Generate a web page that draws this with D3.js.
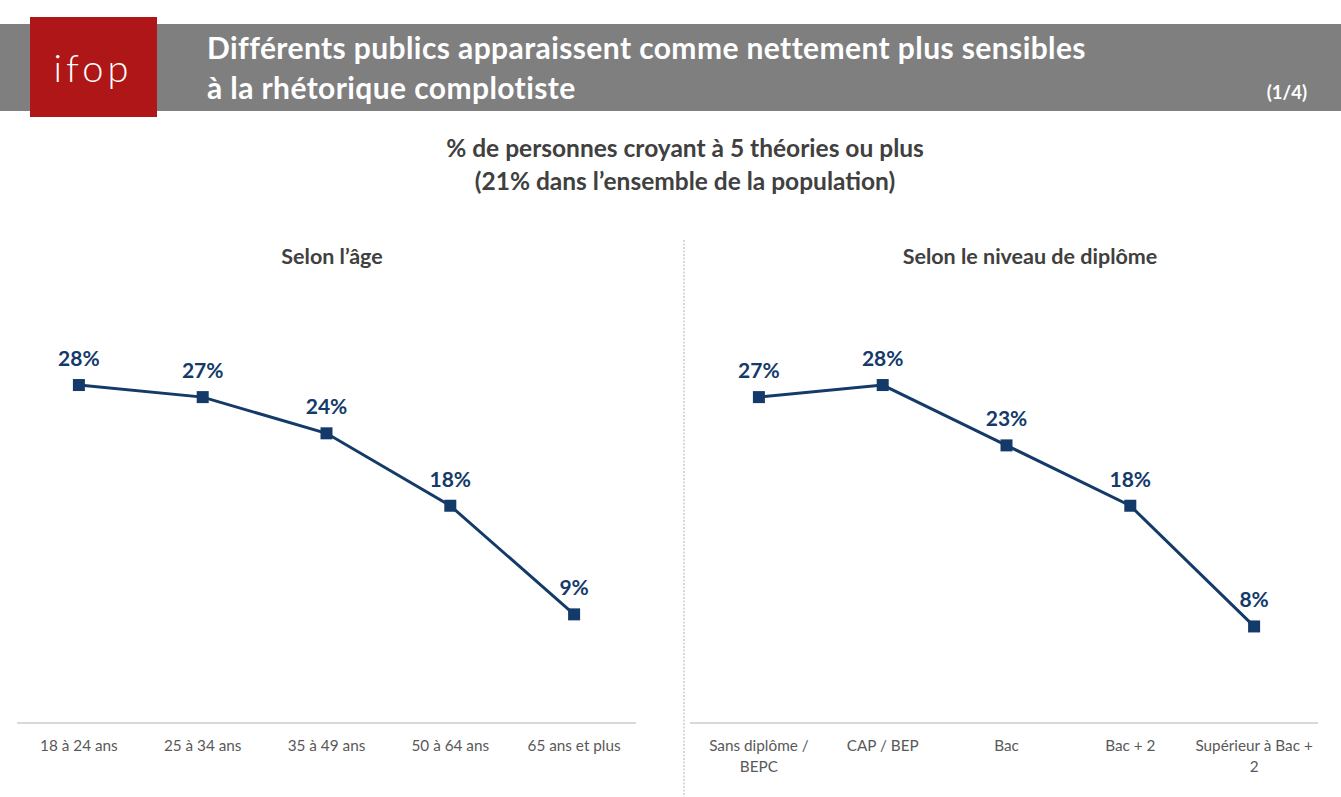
<!DOCTYPE html>
<html><head><meta charset="utf-8">
<script src="https://cdn.jsdelivr.net/npm/d3@7"></script>
<style>body{margin:0;background:#fff}svg{display:block}</style>
</head><body>
<svg id="c" width="1341" height="797"></svg>
<script>
const ageCats = ["18 à 24 ans","25 à 34 ans","35 à 49 ans","50 à 64 ans","65 ans et plus"];
const ageVals = [28,27,24,18,9];
const dipCats = [["Sans diplôme /","BEPC"],["CAP / BEP"],["Bac"],["Bac + 2"],["Supérieur à Bac +","2"]];
const dipVals = [27,28,23,18,8];
const titleLines = ["Différents publics apparaissent comme nettement plus sensibles","à la rhétorique complotiste"];
const subtitleLines = ["% de personnes croyant à 5 théories ou plus","(21% dans l’ensemble de la population)"];
const panelTitles = ["Selon l’âge","Selon le niveau de diplôme"];

const F = "Lato, 'Open Sans', sans-serif";
const svg = d3.select("#c");
const navy = "#133A68";

// header
svg.append("rect").attr("x",0).attr("y",24).attr("width",1341).attr("height",87).attr("fill","#7F7F7F");
svg.append("rect").attr("x",30).attr("y",17).attr("width",127).attr("height",100).attr("fill","#AE1618");
svg.append("text").attr("x",93).attr("y",82).attr("text-anchor","middle").attr("fill","#fff")
  .attr("font-family",F).attr("font-weight",300).attr("font-size",38).attr("letter-spacing",4).text("ifop");
titleLines.forEach((t,i)=>svg.append("text").attr("x",207).attr("y",59+i*40).attr("fill","#fff")
  .attr("font-family",F).attr("font-weight",700).attr("font-size",30).attr("letter-spacing",0.4).text(t));
svg.append("text").attr("x",1307).attr("y",99).attr("text-anchor","end").attr("fill","#fff")
  .attr("font-family",F).attr("font-weight",700).attr("font-size",18.5).text("(1/4)");

subtitleLines.forEach((t,i)=>svg.append("text").attr("x",685).attr("y",157+i*33).attr("text-anchor","middle")
  .attr("fill","#404040").attr("font-family",F).attr("font-weight",700).attr("font-size",24.5).text(t));

// separator
svg.append("line").attr("x1",684).attr("x2",684).attr("y1",240).attr("y2",797)
  .attr("stroke","#BFBFBF").attr("stroke-width",1.2).attr("stroke-dasharray","2,1.5");

const y = d3.scaleLinear().domain([0,30]).range([723, 723-30*12.07]);

function panel(cats, vals, x0, x1, lineX0, lineX1, title, tx){
  const x = d3.scaleBand().domain(d3.range(cats.length)).range([x0,x1]);
  const g = svg.append("g");
  g.append("text").attr("x",tx).attr("y",264).attr("text-anchor","middle")
    .attr("fill","#404040").attr("font-family",F).attr("font-weight",700).attr("font-size",21.5).text(title);
  g.append("line").attr("x1",lineX0).attr("x2",lineX1).attr("y1",y(0)).attr("y2",y(0))
    .attr("stroke","#D9D9D9").attr("stroke-width",2);
  cats.forEach((c,i)=>{
    const lines = Array.isArray(c)?c:[c];
    lines.forEach((l,j)=>g.append("text").attr("x",x(i)+x.bandwidth()/2).attr("y",751+j*21)
      .attr("text-anchor","middle").attr("fill","#595959").attr("font-family",F).attr("font-size",15.3).text(l));
  });
  const cx = i=>x(i)+x.bandwidth()/2;
  g.append("path").datum(vals).attr("fill","none").attr("stroke",navy).attr("stroke-width",3)
    .attr("d",d3.line().x((d,i)=>cx(i)).y(d=>y(d)));
  g.selectAll("rect.m").data(vals).join("rect").attr("x",(d,i)=>cx(i)-6).attr("y",d=>y(d)-6)
    .attr("width",12).attr("height",12).attr("fill",navy);
  g.selectAll("text.v").data(vals).join("text").attr("x",(d,i)=>cx(i)).attr("y",d=>y(d)-19)
    .attr("text-anchor","middle").attr("fill",navy).attr("font-family",F).attr("font-weight",700)
    .attr("font-size",21).text(d=>d+"%");
}
panel(ageCats, ageVals, 17, 636, 17, 636, panelTitles[0], 332);
panel(dipCats, dipVals, 697, 1316, 690, 1318, panelTitles[1], 1030);
</script>
</body></html>
